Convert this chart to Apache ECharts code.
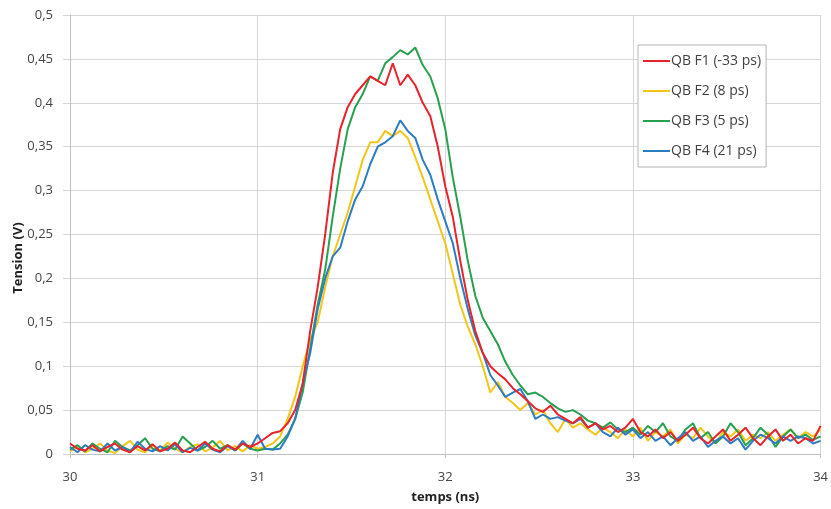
<!DOCTYPE html>
<html>
<head>
<meta charset="utf-8">
<script src="https://cdn.jsdelivr.net/npm/echarts@6/dist/echarts.min.js"></script>
<style>
  html, body { margin: 0; padding: 0; background: #fff; }
  #chart { width: 831px; height: 509px; }
</style>
</head>
<body>
<div id="chart"></div>
<script>
// grille d'échantillonnage (ns) : 30 -> 34, pas de 0,04
var times = [];
for (var i = 0; i <= 100; i++) times.push(+(30 + i * 0.04).toFixed(2));

var seriesNames = ['QB F1 (-33 ps)', 'QB F2 (8 ps)', 'QB F3 (5 ps)', 'QB F4 (21 ps)'];

// tensions (V)
var f1 = [0.012,0.006,0.004,0.010,0.003,0.008,0.012,0.005,0.002,0.009,0.004,0.011,0.003,0.006,0.013,0.004,0.002,0.008,0.014,0.006,0.003,0.010,0.005,0.012,0.008,
  0.012,0.018,0.024,0.026,0.035,0.05,0.08,0.14,0.19,0.25,0.32,0.37,0.395,0.41,0.42,
  0.43,0.425,0.42,0.445,0.42,0.432,0.42,0.40,0.385,0.35,
  0.305,0.27,0.22,0.175,0.14,0.115,0.10,0.092,0.085,0.075,
  0.068,0.06,0.052,0.048,0.055,0.045,0.04,0.035,0.042,0.03,
  0.035,0.028,0.032,0.025,0.03,0.04,0.025,0.02,0.028,0.018,
  0.025,0.015,0.022,0.03,0.018,0.012,0.02,0.028,0.015,0.022,
  0.03,0.018,0.01,0.02,0.028,0.015,0.022,0.012,0.018,0.015,0.032];

var f2 = [0.003,0.008,0.002,0.006,0.012,0.004,0.001,0.009,0.015,0.005,0.002,0.010,0.004,0.013,0.006,0.002,0.008,0.011,0.003,0.007,0.015,0.004,0.009,0.003,0.010,
  0.006,0.008,0.012,0.02,0.04,0.065,0.1,0.13,0.15,0.19,0.225,0.25,0.275,0.305,0.335,
  0.355,0.355,0.368,0.362,0.368,0.36,0.338,0.315,0.29,0.265,
  0.24,0.205,0.17,0.145,0.125,0.1,0.07,0.082,0.065,0.058,
  0.05,0.058,0.045,0.05,0.035,0.025,0.04,0.03,0.035,0.028,
  0.022,0.03,0.025,0.018,0.028,0.02,0.03,0.015,0.025,0.02,
  0.028,0.012,0.022,0.018,0.03,0.02,0.012,0.025,0.02,0.028,
  0.015,0.022,0.018,0.025,0.015,0.022,0.028,0.018,0.025,0.02,0.028];

var f3 = [0.005,0.010,0.003,0.012,0.006,0.002,0.015,0.008,0.004,0.010,0.018,0.006,0.003,0.009,0.005,0.020,0.012,0.004,0.008,0.015,0.006,0.010,0.004,0.012,0.006,
  0.004,0.006,0.005,0.012,0.022,0.04,0.07,0.12,0.17,0.21,0.27,0.325,0.37,0.395,0.41,
  0.43,0.425,0.445,0.452,0.46,0.455,0.463,0.443,0.43,0.405,
  0.37,0.315,0.27,0.22,0.18,0.155,0.14,0.125,0.105,0.09,
  0.078,0.068,0.07,0.065,0.058,0.052,0.048,0.05,0.045,0.038,
  0.035,0.03,0.036,0.028,0.025,0.03,0.022,0.032,0.025,0.035,
  0.02,0.015,0.028,0.035,0.018,0.025,0.012,0.02,0.035,0.025,
  0.01,0.018,0.03,0.022,0.008,0.02,0.028,0.018,0.022,0.016,0.02];

var f4 = [0.008,0.002,0.010,0.005,0.003,0.012,0.004,0.008,0.002,0.014,0.006,0.003,0.009,0.004,0.011,0.002,0.007,0.004,0.012,0.005,0.002,0.009,0.004,0.015,0.006,
  0.022,0.006,0.005,0.006,0.02,0.04,0.08,0.115,0.165,0.2,0.225,0.235,0.265,0.29,0.305,
  0.33,0.35,0.355,0.362,0.38,0.368,0.36,0.335,0.318,0.29,
  0.265,0.24,0.2,0.165,0.135,0.115,0.09,0.078,0.065,0.07,
  0.074,0.06,0.04,0.045,0.04,0.042,0.038,0.035,0.04,0.03,
  0.035,0.025,0.02,0.03,0.022,0.028,0.018,0.025,0.015,0.02,
  0.01,0.018,0.025,0.015,0.02,0.008,0.015,0.02,0.012,0.018,
  0.005,0.015,0.022,0.018,0.012,0.02,0.015,0.02,0.018,0.012,0.015];

var colors = ['#e8232b', '#f2c619', '#27a04f', '#2c7cc4'];

function pairs(vals) {
  return times.map(function (t, k) { return [t, vals[k]]; });
}

var myChart = echarts.init(document.getElementById('chart'));
var option = {
  animation: false,
  color: colors,
  grid: { left: 70, right: 9, top: 15, bottom: 54 },
  // titre de l'axe vertical (décalé vers le bas comme dans l'original)
  graphic: [{
    type: 'text',
    x: 18, y: 258,
    rotation: Math.PI / 2,
    style: {
      text: 'Tension (V)',
      fontFamily: 'Open Sans', fontWeight: 'bold', fontSize: 13,
      fill: '#222', align: 'center', verticalAlign: 'middle'
    }
  }],
  legend: {
    orient: 'vertical',
    left: 638,
    top: 45,
    data: seriesNames,
    icon: 'rect',
    itemWidth: 27,
    itemHeight: 2,
    itemGap: 16,
    padding: [9, 5, 9, 5],
    borderColor: '#b5b5b5',
    borderWidth: 1,
    backgroundColor: '#fff',
    textStyle: { fontFamily: 'Open Sans', fontSize: 14, color: '#404040', padding: [0, 0, 0, -4] }
  },
  xAxis: {
    type: 'value',
    min: 30, max: 34, interval: 1,
    name: 'temps (ns)',
    nameLocation: 'middle',
    nameGap: 37,
    nameTextStyle: { fontFamily: 'Open Sans', fontWeight: 'bold', fontSize: 13, color: '#222' },
    axisLine: { lineStyle: { color: '#bfbfbf' } },
    axisTick: { show: true, length: 4, lineStyle: { color: '#bfbfbf' } },
    axisLabel: { fontFamily: 'Open Sans', fontSize: 13, color: '#444', margin: 17 },
    splitLine: { lineStyle: { color: '#d6d6d6' } }
  },
  yAxis: {
    type: 'value',
    min: 0, max: 0.5, interval: 0.05,
    axisLine: { show: true, lineStyle: { color: '#bfbfbf' } },
    axisTick: { show: true, length: 7, lineStyle: { color: '#d6d6d6' } },
    axisLabel: {
      fontFamily: 'Open Sans', fontSize: 13, color: '#444', margin: 17,
      formatter: function (v) { return String(+v.toFixed(2)).replace('.', ','); }
    },
    splitLine: { lineStyle: { color: '#d6d6d6' } }
  },
  series: [f1, f2, f3, f4].map(function (vals, k) {
    return {
      name: seriesNames[k],
      type: 'line',
      data: pairs(vals),
      showSymbol: false,
      lineStyle: { width: 2 },
      z: k === 0 ? 5 : 2
    };
  })
};
myChart.setOption(option);
</script>
</body>
</html>
